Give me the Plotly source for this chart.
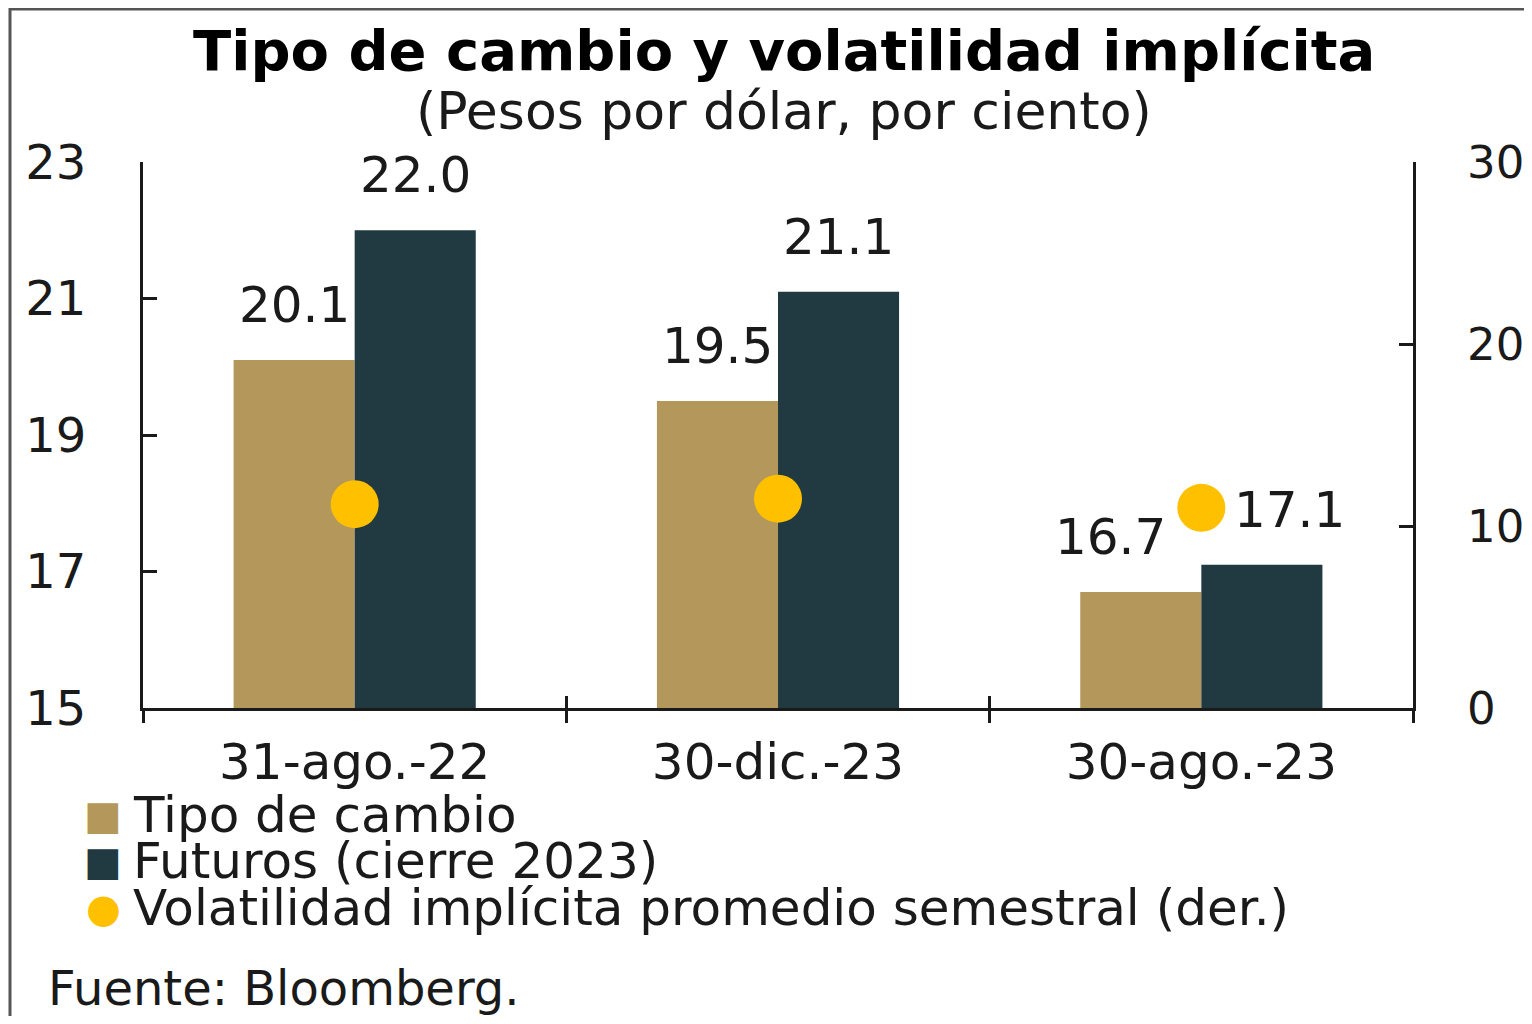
import plotly.graph_objects as go

categories = ["31-ago.-22", "30-dic.-23", "30-ago.-23"]
tipo_cambio = [20.1, 19.5, 16.7]
futuros = [22.0, 21.1, 17.1]
volatilidad = [11.2, 11.5, 11.0]
series_names = ["Tipo de cambio", "Futuros (cierre 2023)", "Volatilidad implícita promedio semestral (der.)"]
left_ticks = [15, 17, 19, 21, 23]
right_ticks = [0, 10, 20, 30]
title_text = "Tipo de cambio y volatilidad implícita"
subtitle_text = "(Pesos por dólar, por ciento)"
source_text = "Fuente: Bloomberg."

TAN = "#B4975A"
NAVY = "#213A42"
GOLD = "#FFC000"
INK = "#1a1a1a"
FONT = "DejaVu Sans"

SW, SH = 1532, 1024  # browser window
OFF = 8  # page body margin
W, H = SW - 2 * OFF, SH - 2 * OFF
L, R, T, B = 143, 1413, 162, 708  # screen pixels of the plot area
BARGAP = 0.428

def px(x, y):
    return (x - L) / (R - L), (B - y) / (B - T)

xs = list(range(len(categories)))
bounds = [i - 0.5 for i in range(len(categories) + 1)]

fig = go.Figure()
fig.add_trace(go.Bar(x=xs, y=tipo_cambio, name=series_names[0], marker_color=TAN,
                     marker_line_width=0, showlegend=False))
fig.add_trace(go.Bar(x=xs, y=futuros, name=series_names[1], marker_color=NAVY,
                     marker_line_width=0, showlegend=False))
fig.add_trace(go.Scatter(x=xs, y=volatilidad, name=series_names[2], mode="markers",
                         marker=dict(color=GOLD, size=48, line_width=0),
                         xaxis="x2", yaxis="y2", showlegend=False))

axis_line = dict(showline=True, linecolor=INK, linewidth=3, showgrid=False,
                 zeroline=False, automargin=False)

fig.update_layout(
    width=W, height=H, autosize=False,
    margin=dict(l=L - OFF, r=SW - OFF - R, t=T - OFF, b=SH - OFF - B, pad=0,
                autoexpand=False),
    paper_bgcolor="white", plot_bgcolor="white",
    barmode="group", bargap=BARGAP, bargroupgap=0,
    font=dict(family=FONT, color=INK),
    xaxis=dict(**axis_line, range=[-0.5, len(categories) - 0.5], tickmode="array",
               tickvals=xs, ticktext=categories, ticks="",
               tickfont=dict(size=50, color=INK), ticklabelstandoff=8,
               minor=dict(tickmode="array", tickvals=bounds, ticks="outside",
                          ticklen=12, tickwidth=3, tickcolor=INK)),
    xaxis2=dict(overlaying="x", anchor="y", side="bottom", automargin=False,
                range=[-0.5, len(categories) - 0.5], tickmode="array",
                tickvals=bounds, ticks="inside", ticklen=12, tickwidth=3, tickcolor=INK,
                showticklabels=False, showgrid=False, zeroline=False, showline=False),
    yaxis=dict(**axis_line, range=[15, 23], tickmode="array", tickvals=left_ticks,
               ticks="inside", ticklen=14, tickwidth=3, tickcolor=INK,
               tickfont=dict(size=48, color=INK), ticklabelstandoff=44),
    yaxis2=dict(**axis_line, range=[0, 30], overlaying="y", side="right", anchor="x",
                tickmode="array", tickvals=right_ticks, ticks="inside", ticklen=14,
                tickwidth=3, tickcolor=INK, tickfont=dict(size=45, color=INK),
                ticklabelstandoff=42),
)

anns = []
# title
tx, ty = px(784, 50)
anns.append(dict(x=tx, y=ty, xref="paper", yref="paper", text="<b>" + title_text + "</b>",
                 showarrow=False, xanchor="center", yanchor="middle",
                 font=dict(size=56, color="black", family=FONT)))
tx, ty = px(784, 111)
anns.append(dict(x=tx, y=ty, xref="paper", yref="paper", text=subtitle_text,
                 showarrow=False, xanchor="center", yanchor="middle",
                 font=dict(size=52, color=INK, family=FONT)))

# bar value labels
half = (1 - BARGAP) / 4
label_xshift = [[0, 0], [0, 0], [-30, 28]]
for i in xs:
    for j, (vals, off) in enumerate([(tipo_cambio, -half), (futuros, half)]):
        anns.append(dict(x=i + off, y=vals[i], xref="x", yref="y", text=f"{vals[i]:.1f}",
                         showarrow=False, xanchor="center", yanchor="bottom",
                         yshift=24, xshift=label_xshift[i][j],
                         font=dict(size=50, color=INK, family=FONT)))

# legend
legend_rows = [(815, "■", TAN, 40), (861, "■", NAVY, 40), (908, "●", GOLD, 40)]
for (yy, sym, col, sz), name in zip(legend_rows, series_names):
    mx, my = px(103, yy)
    anns.append(dict(x=mx, y=my, xref="paper", yref="paper", text=sym, showarrow=False,
                     xanchor="center", yanchor="middle", font=dict(size=sz, color=col, family=FONT)))
    lx, ly = px(131, yy)
    anns.append(dict(x=lx, y=ly, xref="paper", yref="paper", text=name, showarrow=False,
                     xanchor="left", yanchor="middle", font=dict(size=50, color=INK, family=FONT)))

sx, sy = px(46, 988)
anns.append(dict(x=sx, y=sy, xref="paper", yref="paper", text=source_text, showarrow=False,
                 xanchor="left", yanchor="middle", font=dict(size=48, color=INK, family=FONT)))
fig.update_layout(annotations=anns)

# frame
fx0, fy0 = px(10, 9)
fx1, fy1 = px(1600, 1100)
fig.add_shape(type="rect", xref="paper", yref="paper", x0=fx0, y0=fy1, x1=fx1, y1=fy0,
              line=dict(color="#555555", width=3), fillcolor="rgba(0,0,0,0)", layer="below")

fig.write_html("out.html")
